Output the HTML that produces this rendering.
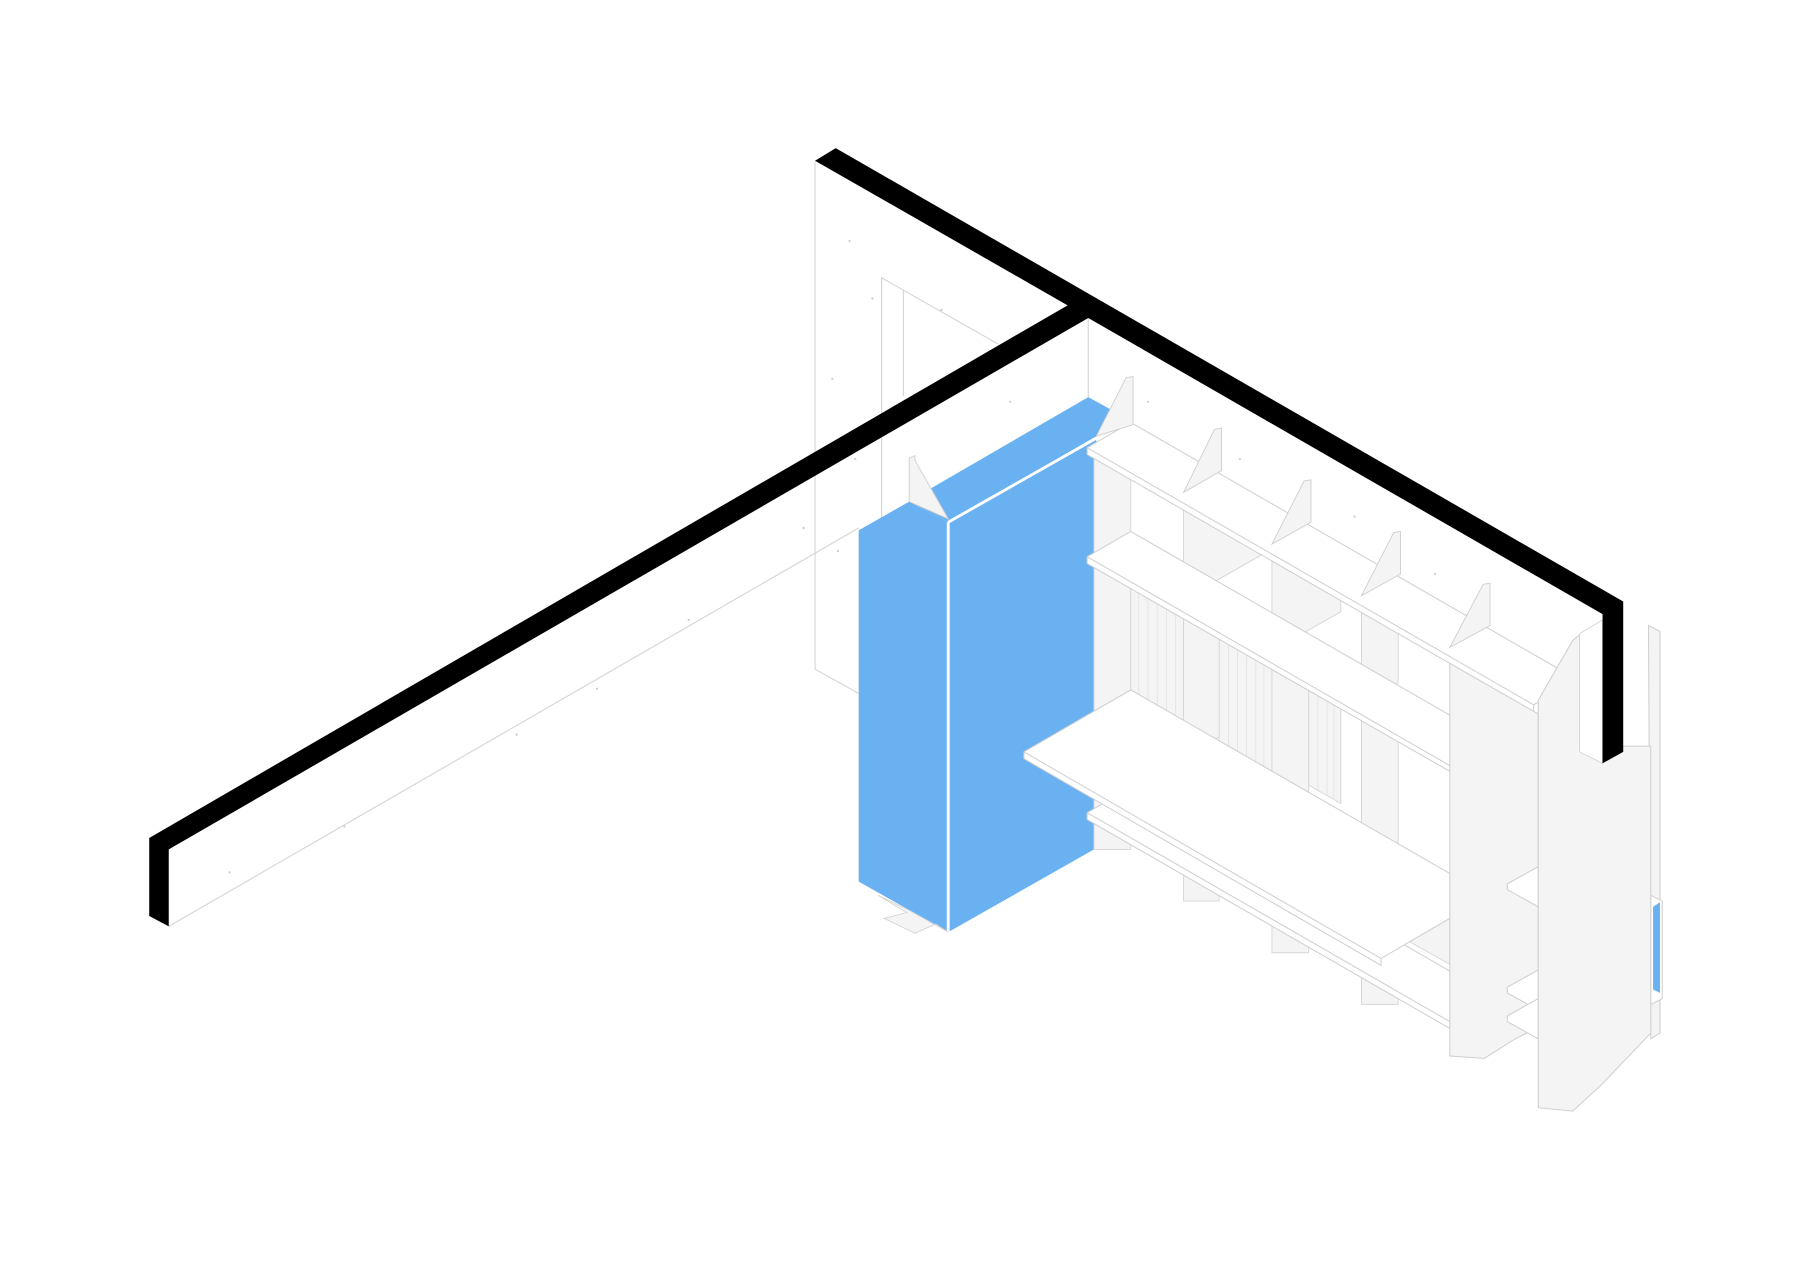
<!DOCTYPE html>
<html><head><meta charset="utf-8"><style>html,body{margin:0;padding:0;background:#fff}svg{display:block}</style></head>
<body>
<svg width="1800" height="1273" viewBox="0 0 1568 1109" preserveAspectRatio="none" xmlns="http://www.w3.org/2000/svg">
<g fill="none" stroke="#d6d6d6" stroke-width="1">
  <!-- back wall left -->
  <polyline points="710,140 710,583 748,604"/>
  <polyline points="768,590 768,242 870,300"/>
  <line x1="787" y1="253" x2="787" y2="345"/>
  <!-- wall under left arm -->
  <line x1="147" y1="807" x2="748" y2="460"/>
  <line x1="948" y1="277" x2="948" y2="346"/>
</g>
<!-- right wall face under top arm (white) -->
<!-- speckles -->
<g fill="#cfcfcf">
  <circle cx="740" cy="210" r="1"/><circle cx="760" cy="260" r="1"/><circle cx="725" cy="330" r="1"/><circle cx="745" cy="400" r="1"/><circle cx="730" cy="480" r="1"/><circle cx="820" cy="270" r="1"/><circle cx="880" cy="350" r="1"/><circle cx="1000" cy="350" r="1"/><circle cx="1080" cy="400" r="1"/><circle cx="1180" cy="450" r="1"/><circle cx="1250" cy="500" r="1"/><circle cx="1370" cy="570" r="1"/><circle cx="300" cy="720" r="1"/><circle cx="450" cy="640" r="1"/><circle cx="600" cy="540" r="1"/><circle cx="200" cy="760" r="1"/><circle cx="700" cy="460" r="1"/><circle cx="520" cy="600" r="1"/>
</g>
<!-- blue box -->
<polygon points="810,426 948,346 968,357 955,380 826,455 792,437" fill="#69b1f1"/>
<polygon points="748,462 792,437 826,455 826,812 748,768" fill="#69b1f1"/>
<polygon points="826,455 955,382 953,740 826,812" fill="#69b1f1"/>
<line x1="826" y1="455" x2="826" y2="812" stroke="#fff" stroke-width="2.5"/>
<line x1="826" y1="455" x2="958" y2="380" stroke="#fff" stroke-width="2.5"/>
<polygon points="765,780 790,795 770,800 797,813 815,805 826,812 790,792" fill="#f4f4f4" stroke="#d6d6d6" stroke-width="0.8"/>
<!-- back panel -->
<polygon points="953,395 985,378 985,740 953,740" fill="#f4f4f4" stroke="#d6d6d6" stroke-width="0.8"/>
<g fill="#f4f4f4" stroke="#d6d6d6" stroke-width="0.8">
  <!-- fluted panels -->
  <polygon points="985,510 1031,536 1031,630 985,604"/>
  <polygon points="1062,555 1108,581 1108,690 1062,664"/>
  <polygon points="1140,600 1168,616 1168,700 1140,684"/>
  <!-- row1 dividers -->
  <polygon points="1031,440 1098,478 1098,484 1031,522"/>
  <polygon points="1108,486 1168,520 1168,533 1108,567"/>
  <polygon points="1186,532 1218,550 1218,595 1186,612"/>
  <!-- row2 dividers -->
  <polygon points="1031,535 1062,553 1062,642 1031,660"/>
  <polygon points="1108,580 1140,598 1140,689 1108,707"/>
  <polygon points="1186,625 1218,643 1218,734 1186,752"/>
  <!-- below desk -->
  <polygon points="1031,740 1062,757 1062,785 1031,785"/>
  <polygon points="1108,800 1140,818 1140,830 1108,830"/>
  <polygon points="1186,845 1218,862 1218,875 1186,875"/>
  <polygon points="1218,800 1263,775 1263,840 1218,815"/>
</g>
<g stroke="#e0e0e0" stroke-width="0.6">
  <line x1="992" y1="514" x2="992" y2="608"/><line x1="1000" y1="518" x2="1000" y2="612"/><line x1="1008" y1="523" x2="1008" y2="617"/><line x1="1016" y1="527" x2="1016" y2="621"/><line x1="1024" y1="532" x2="1024" y2="626"/>
  <line x1="1070" y1="560" x2="1070" y2="669"/><line x1="1078" y1="564" x2="1078" y2="673"/><line x1="1086" y1="569" x2="1086" y2="678"/><line x1="1094" y1="573" x2="1094" y2="682"/><line x1="1101" y1="577" x2="1101" y2="686"/>
  <line x1="1148" y1="605" x2="1148" y2="689"/><line x1="1156" y1="609" x2="1156" y2="693"/><line x1="1162" y1="613" x2="1162" y2="697"/>
</g>
<!-- desk slots -->
<g fill="#fff" stroke="#d6d6d6" stroke-width="0.8">
  <polygon points="972,617 985,610 1031,636 1031,650 1018,650"/>
  <polygon points="1049,662 1062,655 1108,681 1108,695 1095,695"/>
  <polygon points="1127,707 1140,700 1168,716 1168,730 1155,740"/>
</g>
<!-- shelves -->
<g fill="#fff" stroke="#cfcfcf" stroke-width="0.9">
  <polygon points="947,390 985,368 1374,592 1336,614 1336,620 947,396"/>
  <line x1="947" y1="390" x2="1336" y2="614"/>
  <polygon points="947,485 985,463 1263,623 1263,672 947,491"/>
  <line x1="947" y1="485" x2="1263" y2="667"/>
  <polygon points="947,708 985,686 1263,846 1263,896 947,714"/>
  <line x1="947" y1="708" x2="1263" y2="890"/>
  <polygon points="892,655 985,601 1263,761 1263,800 1203,835 1203,841 892,661"/>
  <line x1="892" y1="655" x2="1203" y2="835"/>
</g>
<!-- brackets -->
<g fill="#f4f4f4" stroke="#cfcfcf" stroke-width="0.8">
  <polygon points="792,399 797,397 797,401 826,452 792,437"/>
  <polygon points="981,329 987,328 987,370 955,380"/>
  <polygon points="1058,374 1064,373 1064,410 1031,429"/>
  <polygon points="1136,419 1142,418 1142,455 1108,474"/>
  <polygon points="1214,464 1220,463 1220,500 1186,519"/>
  <polygon points="1292,509 1298,508 1298,545 1263,564"/>
</g>
<!-- right panels -->
<g fill="#f4f4f4" stroke="#cfcfcf" stroke-width="0.9">
  <polygon points="1436,545 1446,550 1446,900 1438,905"/>
  <polygon points="1438,780 1448,785 1448,870 1438,875" fill="#fff"/>
  <polygon points="1263,578 1340,622 1340,895 1320,905 1293,922 1263,920"/>
  <polygon points="1313,770 1340,755 1340,790 1313,775" fill="#fff"/>
  <polygon points="1313,860 1340,845 1340,880 1313,865" fill="#fff"/>
  <polygon points="1313,885 1340,870 1340,905 1313,890" fill="#fff"/>
  <polygon points="1340,610 1370,558 1376,553 1376,650 1438,650 1438,900 1395,945 1370,968 1340,965"/>
</g>
<polygon points="1440,790 1446,786 1446,865 1440,862" fill="#69b1f1"/>
<polygon points="1376,552 1396,540 1396,665 1376,655" fill="#fff" stroke="#d6d6d6" stroke-width="0.8"/>
<!-- black beam -->
<polygon points="710,140 728,129 1414,524 1414,655 1396,665 1396,535 948,277 147,740 147,807 130,798 130,730 930,266" fill="#000"/>
</svg>
</body></html>
